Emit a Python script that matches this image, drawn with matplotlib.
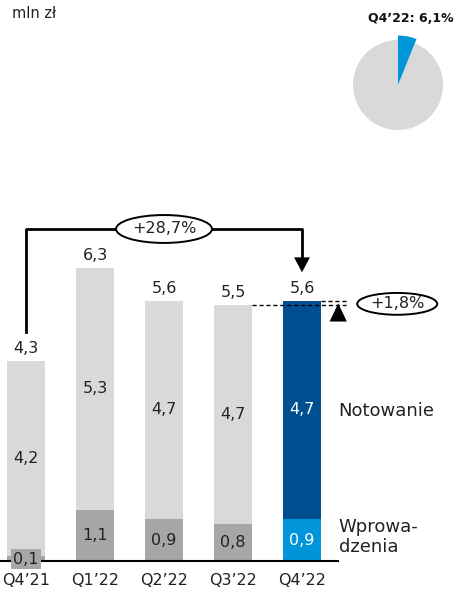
import matplotlib.pyplot as plt
from matplotlib.patches import Ellipse, Polygon

plt.rcParams['font.family'] = 'DejaVu Sans'

# data
quarters = ['Q4\u201921', 'Q1\u201922', 'Q2\u201922', 'Q3\u201922', 'Q4\u201922']
totals = [4.3, 6.3, 5.6, 5.5, 5.6]
notowanie = [4.2, 5.3, 4.7, 4.7, 4.7]
wprowadzenia = [0.1, 1.1, 0.9, 0.8, 0.9]
share_q4 = 6.1

LIGHT = '#d9d9da'
DARK = '#a6a6a5'
NAVY = '#004f91'
BLUE = '#0095d9'
TXT = '#222222'
FS = 11.5

fig = plt.figure(figsize=(4.56, 5.92), dpi=100)
ax = fig.add_axes([0, 0, 1, 1])
ax.set_xlim(-0.377, 6.232)
ax.set_ylim(-0.667, 12.065)
ax.axis('off')


def fmt(v):
    return f'{v:.1f}'.replace('.', ',')


x = list(range(len(quarters)))
w = 0.55
for i in x:
    last = i == len(x) - 1
    top_c = NAVY if last else LIGHT
    bot_c = BLUE if last else DARK
    ax.bar(i, wprowadzenia[i], w, color=bot_c, zorder=2)
    ax.bar(i, totals[i] - wprowadzenia[i], w, bottom=wprowadzenia[i], color=top_c, zorder=2)
    txt_c = 'white' if last else TXT
    # totals above
    ax.annotate(fmt(totals[i]), (i, totals[i]), xytext=(0, 3.5),
                textcoords='offset points', ha='center', va='bottom', fontsize=FS, color=TXT)
    # notowanie centre
    ax.text(i, (wprowadzenia[i] + totals[i]) / 2, fmt(notowanie[i]),
            ha='center', va='center', fontsize=FS, color=txt_c, zorder=4)
    # wprowadzenia
    if wprowadzenia[i] < 0.3:
        ax.text(i, 0.04, fmt(wprowadzenia[i]), ha='center', va='center',
                fontsize=FS, color=TXT, zorder=5,
                bbox=dict(boxstyle='square,pad=0.15', facecolor=DARK, edgecolor='none'))
    else:
        ax.text(i, wprowadzenia[i] / 2, fmt(wprowadzenia[i]),
                ha='center', va='center', fontsize=FS, color=txt_c, zorder=4)
    ax.text(i, -0.42, quarters[i], ha='center', va='center', fontsize=FS, color=TXT)

# baseline
ax.plot([-0.377, 4.52], [0, 0], color='black', lw=1.5, zorder=3)

# +28,7% bracket
y_top = 7.14
ax.plot([0, 0, 4, 4], [4.92, y_top, y_top, 6.5], color='black', lw=2, zorder=3)
ax.add_patch(Polygon([[3.885, 6.53], [4.115, 6.53], [4, 6.21]], closed=True,
                     facecolor='black', edgecolor='none', zorder=3))
ax.add_patch(Ellipse((2, y_top), 1.39, 0.6, facecolor='white', edgecolor='black', lw=1.4, zorder=4))
ax.text(2, y_top, '+28,7%', ha='center', va='center', fontsize=FS, color=TXT, zorder=5)

# +1,8% change
ax.plot([3 + w / 2, 4.64], [totals[3], totals[3]], color='black', lw=1, ls=(0, (3, 2)), zorder=3)
ax.plot([4 + w / 2, 4.64], [totals[4], totals[4]], color='black', lw=1, ls=(0, (3, 2)), zorder=3)
ax.add_patch(Polygon([[4.40, 5.15], [4.65, 5.15], [4.525, 5.54]], closed=True,
                     facecolor='black', edgecolor='none', zorder=3))
ax.add_patch(Ellipse((5.38, 5.53), 1.16, 0.47, facecolor='white', edgecolor='black', lw=1.4, zorder=4))
ax.text(5.38, 5.53, '+1,8%', ha='center', va='center', fontsize=FS, color=TXT, zorder=5)

# series labels
ax.text(4.53, 3.22, 'Notowanie', ha='left', va='center', fontsize=13, color=TXT)
ax.text(4.53, 0.52, 'Wprowa-\ndzenia', ha='left', va='center', fontsize=13,
        color=TXT, linespacing=1.15)

fig.text(12 / 456, 1 - 14 / 592, 'mln z\u0142', ha='left', va='center', fontsize=10.5, color=TXT)

# pie: grey disc plus a slightly larger blue wedge for Q4'22 share
pax = fig.add_axes([348.5 / 456, 1 - 134.5 / 592, 99 / 456, 99 / 592])
pax.pie([share_q4, 100 - share_q4], colors=['none', LIGHT], startangle=90, counterclock=False,
        radius=1.0, wedgeprops=dict(edgecolor='none'))
pax.pie([share_q4, 100 - share_q4], colors=[BLUE, 'none'], startangle=90, counterclock=False,
        radius=1.1, wedgeprops=dict(edgecolor='none'))
pax.set_xlim(-1.1, 1.1)
pax.set_ylim(-1.1, 1.1)
pax.set_aspect('equal')
fig.text(411 / 456, 1 - 18 / 592, 'Q4\u201922: 6,1%', ha='center', va='center', fontsize=9,
         fontweight='bold', color='#111111')

fig.savefig('out.png', dpi=100, facecolor='white')
